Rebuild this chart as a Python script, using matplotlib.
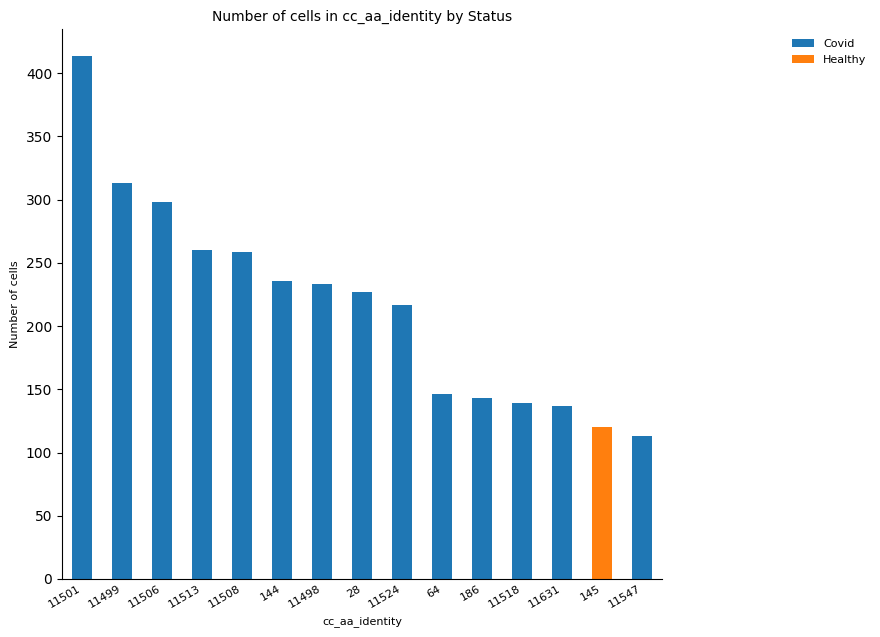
import numpy as np
import matplotlib
matplotlib.use("Agg")
import matplotlib.pyplot as plt

# values
clones = ["11501", "11499", "11506", "11513", "11508", "144", "11498", "28",
          "11524", "64", "186", "11518", "11631", "145", "11547"]
counts = [414, 313, 298, 260, 259, 236, 233, 227, 217, 146, 143, 139, 137, 120, 113]
status = ["Covid"] * 13 + ["Healthy", "Covid"]

colors = {"Covid": "#1f77b4", "Healthy": "#ff7f0e"}

fig = plt.figure(figsize=(8.8, 6.37), dpi=100)
ax = fig.add_axes([62 / 880, 1 - 579 / 637, 600 / 880, 550 / 637])

x = np.arange(len(clones))
counts = np.array(counts)
status = np.array(status)
for s in ["Covid", "Healthy"]:
    m = status == s
    ax.bar(x[m], counts[m], width=0.5, color=colors[s], label=s)

ax.set_xlim(-0.5, len(clones) - 0.5)
ax.set_xticks(x)
ax.set_xticklabels(clones, rotation=30, ha="right", fontsize=8)
ax.tick_params(axis="x", length=0)
ax.set_ylim(0, 435)
ax.set_xlabel("cc_aa_identity", fontsize=8)
ax.set_ylabel("Number of cells", fontsize=8)
ax.set_title("Number of cells in cc_aa_identity by Status", fontsize=10)
ax.spines["top"].set_visible(False)
ax.spines["right"].set_visible(False)

ax.legend(loc="upper left", bbox_to_anchor=(1.2, 1.0), frameon=False, fontsize=8)

fig.savefig("out.png", dpi=100)
